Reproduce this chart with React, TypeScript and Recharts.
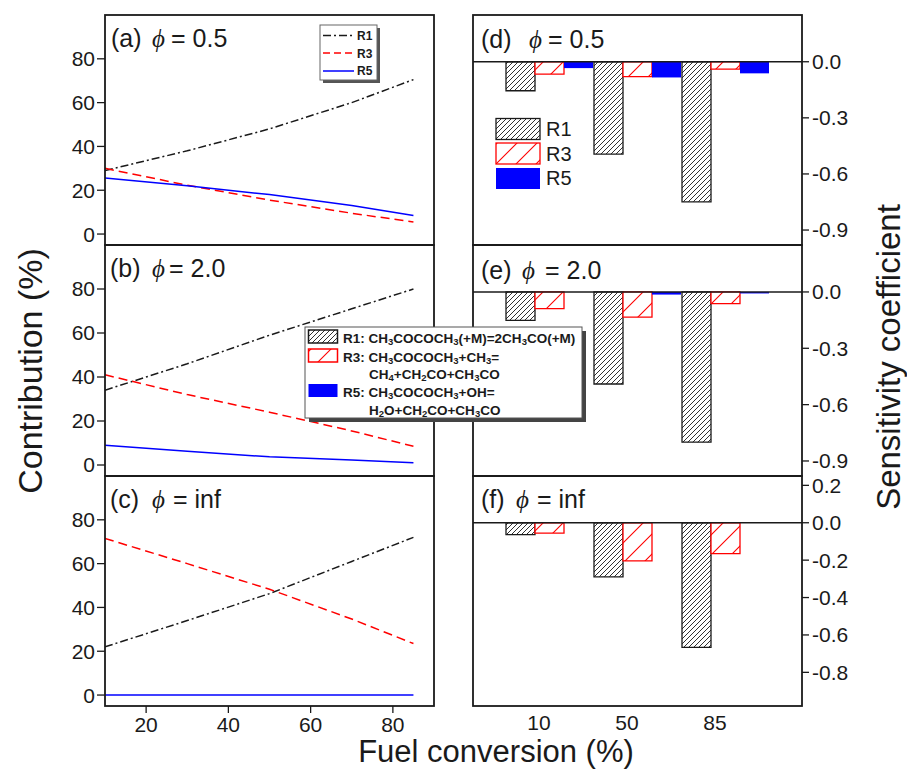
import React from 'react';
import { LineChart, Line, BarChart, Bar, XAxis, YAxis, ReferenceLine } from 'recharts';

const FONT = '"Liberation Sans", Arial, Helvetica, sans-serif';
const SERIF = '"Liberation Serif", "DejaVu Serif", serif';
const INK = '#1a1a1a';
const RED = '#ff0000';
const BLUE = '#0000ff';

// fuel conversion (%) at which the contribution curves were read
const conversion = [10, 30, 50, 70, 85];

// (a) phi = 0.5
const r1Lean = [29, 38, 48, 60, 70.5];
const r3Lean = [30, 22.3, 15.5, 9.5, 5.5];
const r5Lean = [25.6, 22, 18, 13, 8.5];
// (b) phi = 2.0
const r1Rich = [34, 46, 59, 71, 80];
const r3Rich = [41, 32, 24, 15.5, 8.5];
const r5Rich = [9, 6.2, 3.7, 2.3, 1];
// (c) phi = inf
const r1Pyro = [22, 34, 46.3, 61, 72];
const r3Pyro = [71.5, 60, 48.3, 34.7, 23.5];
const r5Pyro = [0, 0, 0, 0, 0];

// sensitivity coefficients at 10 / 50 / 85 % conversion
const barConversion = ['10', '50', '85'];
const sensR1Lean = [-0.155, -0.494, -0.749];
const sensR3Lean = [-0.066, -0.08, -0.039];
const sensR5Lean = [-0.034, -0.084, -0.062];
const sensR1Rich = [-0.151, -0.49, -0.8];
const sensR3Rich = [-0.089, -0.134, -0.062];
const sensR5Rich = [0, -0.014, -0.008];
const sensR1Pyro = [-0.064, -0.289, -0.667];
const sensR3Pyro = [-0.055, -0.204, -0.165];
const sensR5Pyro = [0, 0, 0];

const contributionTicks = [0, 20, 40, 60, 80];
const conversionTicks = [20, 40, 60, 80];
const sensTicks = [0, -0.3, -0.6, -0.9];
const sensTicksPyro = [0.2, 0, -0.2, -0.4, -0.6, -0.8];

const R1_LEGEND = ['R1: CH_3COCOCH_3(+M)=2CH_3CO(+M)'];
const R3_LEGEND = ['R3: CH_3COCOCH_3+CH_3=', 'CH_4+CH_2CO+CH_3CO'];
const R5_LEGEND = ['R5: CH_3COCOCH_3+OH=', 'H_2O+CH_2CO+CH_3CO'];

const tickStyle = { fontSize: 21, fill: INK, fontFamily: FONT };

const LinePanel = ({ r1, r3, r5, top, height, bottomAxis }: any) => {
  const rows = conversion.map((x, i) => ({ x, r1: r1[i], r3: r3[i], r5: r5[i] }));
  const h = height + (bottomAxis ? 45 : 0) + 10;
  return (
    <div style={{ position: 'absolute', left: 0, top: top - 10, width: 460, height: h }}>
      <LineChart width={460} height={h} data={rows} margin={{ top: 10, right: 26, bottom: 0, left: 0 }}>
        <XAxis
          dataKey="x"
          type="number"
          domain={[10, 90]}
          allowDataOverflow
          ticks={conversionTicks}
          interval={0}
          mirror={!bottomAxis}
          height={bottomAxis ? 45 : 30}
          tick={bottomAxis ? tickStyle : false}
          tickSize={bottomAxis ? 7 : 5}
          tickMargin={4}
          axisLine={false}
          tickLine={{ stroke: INK, strokeWidth: 1.3 }}
        />
        <YAxis
          type="number"
          domain={[-5, 100]}
          allowDataOverflow
          ticks={contributionTicks}
          interval={0}
          width={105}
          tick={tickStyle}
          tickSize={8}
          tickMargin={2}
          axisLine={false}
          tickLine={{ stroke: INK, strokeWidth: 1.3 }}
        />
        <Line type="linear" dataKey="r1" stroke={INK} strokeWidth={1.5} strokeDasharray="8 3 2 3" dot={false} isAnimationActive={false} />
        <Line type="linear" dataKey="r3" stroke={RED} strokeWidth={1.5} strokeDasharray="9 5" dot={false} isAnimationActive={false} />
        <Line type="linear" dataKey="r5" stroke={BLUE} strokeWidth={1.5} dot={false} isAnimationActive={false} />
      </LineChart>
    </div>
  );
};

const BarPanel = ({ r1, r3, r5, top, height, ticks, bottomAxis }: any) => {
  const rows = barConversion.map((c, i) => ({ c, r1: r1[i], r3: r3[i], r5: r5[i] }));
  const h = height + (bottomAxis ? 45 : 0) + 10;
  return (
    <div style={{ position: 'absolute', left: 460, top: top - 10, width: 447, height: h }}>
      <BarChart width={447} height={h} data={rows} margin={{ top: 10, right: 0, bottom: 0, left: 13 }} barCategoryGap={0} barGap={0}>
        <XAxis
          dataKey="c"
          padding={{ left: 33, right: 32 }}
          hide={!bottomAxis}
          height={45}
          interval={0}
          tick={{ ...tickStyle, dx: -11 }}
          tickSize={7}
          tickMargin={2}
          axisLine={false}
          tickLine={false}
        />
        <YAxis
          type="number"
          orientation="right"
          domain={[-0.98, 0.25]}
          allowDataOverflow
          ticks={ticks}
          interval={0}
          width={105}
          tickFormatter={(v: number) => v.toFixed(1)}
          tick={tickStyle}
          tickSize={7}
          tickMargin={3}
          axisLine={false}
          tickLine={{ stroke: INK, strokeWidth: 1.3 }}
        />
        <ReferenceLine y={0} stroke={INK} strokeWidth={1.5} />
        <Bar dataKey="r1" fill="url(#hatchBlack)" stroke={INK} strokeWidth={1.3} isAnimationActive={false} />
        <Bar dataKey="r3" fill="url(#hatchRed)" stroke={RED} strokeWidth={1.3} isAnimationActive={false} />
        <Bar dataKey="r5" fill={BLUE} isAnimationActive={false} />
      </BarChart>
    </div>
  );
};

const Title = ({ x, y, tag, phiX, eqX, value }: any) => (
  <text y={y} fontFamily={FONT} fontSize={25} fill={INK}>
    <tspan x={x}>({tag})</tspan>
    <tspan x={phiX} fontFamily={SERIF} fontStyle="italic">ϕ</tspan>
    <tspan x={eqX}>= {value}</tspan>
  </text>
);

const Chem = ({ x, y, text }: any) => {
  const parts = text.split(/(_\d)/).filter(Boolean);
  let prevSub = false;
  return (
    <text x={x} y={y} fontFamily={FONT} fontSize={13.5} fontWeight="bold" fill={INK}>
      {parts.map((p: string, i: number) => {
        if (p.startsWith('_')) {
          prevSub = true;
          return <tspan key={i} fontSize={9.5} dy={1.5}>{p.slice(1)}</tspan>;
        }
        const dy = prevSub ? -1.5 : undefined;
        prevSub = false;
        return <tspan key={i} dy={dy}>{p}</tspan>;
      })}
    </text>
  );
};

export default function App() {
  return (
    <div style={{ position: 'absolute', left: 0, top: 0, width: 907, height: 769, background: '#fff', fontFamily: FONT }}>
      <svg width={0} height={0} style={{ position: 'absolute' }}>
        <defs>
          <pattern id="hatchBlack" patternUnits="userSpaceOnUse" width={5} height={5}>
            <rect width={5} height={5} fill="#fff" />
            <path d="M-1,1 L1,-1 M0,5 L5,0 M4,6 L6,4" stroke={INK} strokeWidth={0.9} />
          </pattern>
          <pattern id="hatchRed" patternUnits="userSpaceOnUse" width={20} height={20}>
            <rect width={20} height={20} fill="#fff" />
            <path d="M-2,2 L2,-2 M0,20 L20,0 M18,22 L22,18" stroke={RED} strokeWidth={1.1} />
          </pattern>
        </defs>
      </svg>

      <LinePanel r1={r1Lean} r3={r3Lean} r5={r5Lean} top={15} height={230} />
      <LinePanel r1={r1Rich} r3={r3Rich} r5={r5Rich} top={245} height={231} />
      <LinePanel r1={r1Pyro} r3={r3Pyro} r5={r5Pyro} top={476} height={230} bottomAxis />

      <BarPanel r1={sensR1Lean} r3={sensR3Lean} r5={sensR5Lean} top={15} height={230} ticks={sensTicks} />
      <BarPanel r1={sensR1Rich} r3={sensR3Rich} r5={sensR5Rich} top={245} height={231} ticks={sensTicks} />
      <BarPanel r1={sensR1Pyro} r3={sensR3Pyro} r5={sensR5Pyro} top={476} height={230} ticks={sensTicksPyro} bottomAxis />

      <svg width={907} height={769} style={{ position: 'absolute', left: 0, top: 0, pointerEvents: 'none' }}>
        {/* panel frames */}
        {[15, 245, 476].map((t, i) => (
          <g key={t}>
            <rect x={105} y={t} width={329} height={[230, 231, 230][i]} fill="none" stroke={INK} strokeWidth={1.8} />
            <rect x={473} y={t} width={329} height={[230, 231, 230][i]} fill="none" stroke={INK} strokeWidth={1.8} />
          </g>
        ))}

        <Title x={111} y={47} tag="a" phiX={152} eqX={171} value="0.5" />
        <Title x={110} y={277} tag="b" phiX={152} eqX={169} value="2.0" />
        <Title x={110} y={508} tag="c" phiX={152} eqX={173} value="inf" />
        <Title x={481} y={48} tag="d" phiX={529} eqX={548} value="0.5" />
        <Title x={481} y={279} tag="e" phiX={522} eqX={545} value="2.0" />
        <Title x={481} y={508} tag="f" phiX={516} eqX={537} value="inf" />

        {/* axis titles */}
        <text transform="translate(42,371) rotate(-90)" textAnchor="middle" fontFamily={FONT} fontSize={34} fill={INK}>Contribution (%)</text>
        <text x={496} y={762} textAnchor="middle" fontFamily={FONT} fontSize={31} fill={INK}>Fuel conversion (%)</text>
        <text transform="translate(900,357) rotate(-90)" textAnchor="middle" fontFamily={FONT} fontSize={33} fill={INK}>Sensitivity coefficient</text>

        {/* legend of panel (a) */}
        <rect x={323} y={28} width={57} height={55} fill="#555" />
        <rect x={320} y={25} width={57} height={55} fill="#fff" stroke="#666" strokeWidth={1} />
        <line x1={323} x2={354} y1={35.5} y2={35.5} stroke={INK} strokeWidth={1.5} strokeDasharray="8 3 2 3" />
        <line x1={323} x2={354} y1={53} y2={53} stroke={RED} strokeWidth={1.5} strokeDasharray="7 4" />
        <line x1={323} x2={354} y1={71} y2={71} stroke={BLUE} strokeWidth={1.5} />
        {['R1', 'R3', 'R5'].map((s, i) => (
          <text key={s} x={357} y={40 + i * 17.7} fontFamily={FONT} fontSize={12} fontWeight="bold" fill={INK}>{s}</text>
        ))}

        {/* legend of panel (d) */}
        <rect x={496} y={118.5} width={44} height={21} fill="url(#hatchBlack)" stroke={INK} strokeWidth={1.3} />
        <rect x={496} y={143} width={44} height={21} fill="url(#hatchRed)" stroke={RED} strokeWidth={1.3} />
        <rect x={496} y={168} width={44} height={21} fill={BLUE} />
        {['R1', 'R3', 'R5'].map((s, i) => (
          <text key={s} x={546} y={136 + i * 24.5} fontFamily={FONT} fontSize={20} fill={INK}>{s}</text>
        ))}

        {/* reaction legend */}
        <rect x={309} y={331} width={277} height={91} fill="#444" />
        <rect x={305} y={327} width={277} height={91} fill="#fff" stroke="#555" strokeWidth={1} />
        <rect x={308.5} y={330} width={29} height={13} fill="url(#hatchBlack)" stroke={INK} strokeWidth={1.5} />
        <rect x={308.5} y={349} width={29} height={13} fill="url(#hatchRed)" stroke={RED} strokeWidth={1.5} />
        <rect x={308.5} y={384} width={29} height={13} fill={BLUE} />
        <Chem x={343} y={343} text={R1_LEGEND[0]} />
        <Chem x={343} y={362} text={R3_LEGEND[0]} />
        <Chem x={369} y={379} text={R3_LEGEND[1]} />
        <Chem x={343} y={397} text={R5_LEGEND[0]} />
        <Chem x={369} y={415} text={R5_LEGEND[1]} />
      </svg>
    </div>
  );
}
